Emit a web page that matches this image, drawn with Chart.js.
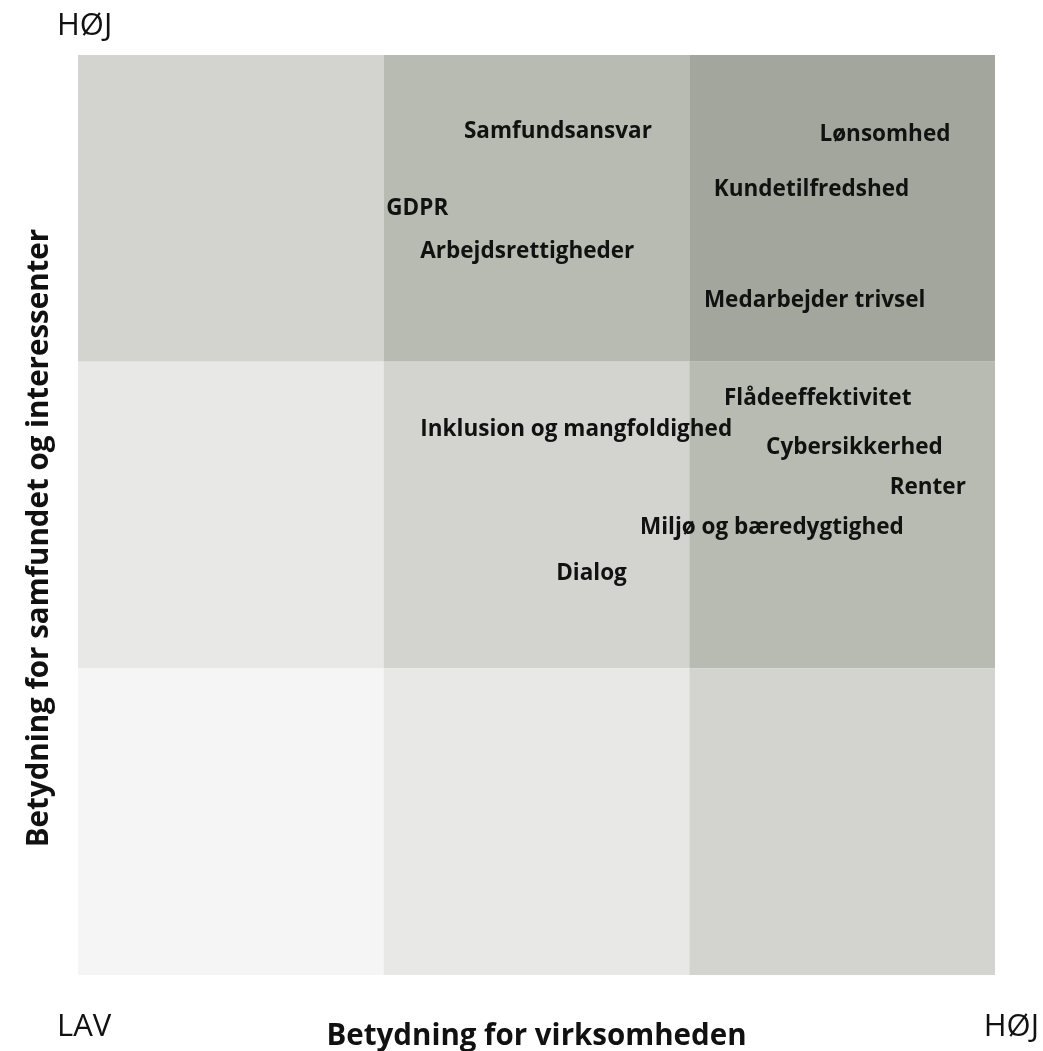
<!DOCTYPE html>
<html>
<head>
<meta charset="utf-8">
<script src="https://cdn.jsdelivr.net/npm/chart.js@4.4.1/dist/chart.umd.min.js"></script>
<style>
  html, body { margin: 0; padding: 0; background: #fff; }
  #wrap { width: 1043px; height: 1051px; }
</style>
</head>
<body>
<div id="wrap"><canvas id="matrix"></canvas></div>
<script>
// Topics in the materiality matrix
const topics = [
  'Samfundsansvar', 'Lønsomhed', 'Kundetilfredshed', 'GDPR',
  'Arbejdsrettigheder', 'Medarbejder trivsel', 'Flådeeffektivitet',
  'Inklusion og mangfoldighed', 'Cybersikkerhed', 'Renter',
  'Miljø og bæredygtighed', 'Dialog'
];
// Betydning for virksomheden (0-3)
const businessImpact = [1.57, 2.64, 2.40, 1.11, 1.47, 2.41, 2.42, 1.63, 2.54, 2.78, 2.27, 1.68];
// Betydning for samfundet og interessenter (0-3)
const stakeholderImpact = [2.75, 2.74, 2.56, 2.50, 2.36, 2.20, 1.88, 1.78, 1.72, 1.59, 1.46, 1.31];

// Zone shading, rows from top (høj) to bottom (lav), columns left to right
const zoneColors = [
  ['#d3d4cf', '#b8bbb1', '#a3a69c'],
  ['#e8e8e6', '#d3d4cf', '#b8bbb1'],
  ['#f5f5f5', '#e8e8e6', '#d3d4cf']
];
const levelLabels = { top: 'HØJ', low: 'LAV', high: 'HØJ' };
const yTitle = 'Betydning for samfundet og interessenter';

const FONT = '"Open Sans", "Noto Sans", sans-serif';

const zonesPlugin = {
  id: 'zones',
  beforeDatasetsDraw(chart) {
    const { ctx, scales: { x, y } } = chart;
    ctx.save();
    for (let r = 0; r < 3; r++) {
      for (let c = 0; c < 3; c++) {
        const x0 = x.getPixelForValue(c), x1 = x.getPixelForValue(c + 1);
        const y0 = y.getPixelForValue(3 - r), y1 = y.getPixelForValue(2 - r);
        ctx.fillStyle = zoneColors[r][c];
        ctx.fillRect(x0, y0, x1 - x0, y1 - y0);
      }
    }
    ctx.restore();
  }
};

const textPlugin = {
  id: 'topicText',
  afterDatasetsDraw(chart) {
    const { ctx } = chart;
    const meta = chart.getDatasetMeta(0);
    ctx.save();
    ctx.fillStyle = '#111';
    ctx.font = 'bold 22.5px ' + FONT;
    ctx.textAlign = 'center';
    ctx.textBaseline = 'middle';
    meta.data.forEach((pt, i) => {
      ctx.fillText(topics[i], pt.x, pt.y);
    });
    // level labels at the corners
    ctx.font = '31px ' + FONT;
    ctx.textBaseline = 'alphabetic';
    ctx.textAlign = 'left';
    ctx.fillText(levelLabels.top, 57, 35);
    ctx.fillText(levelLabels.low, 57, 1036);
    ctx.textAlign = 'right';
    ctx.fillText(levelLabels.high, 1039, 1036);
    // vertical axis title
    ctx.font = 'bold 29.5px ' + FONT;
    ctx.textAlign = 'center';
    ctx.translate(48, 538);
    ctx.rotate(-Math.PI / 2);
    ctx.fillText(yTitle, 0, 0);
    ctx.restore();
  }
};

new Chart(document.getElementById('matrix'), {
  type: 'scatter',
  data: {
    datasets: [{
      data: topics.map((t, i) => ({ x: businessImpact[i], y: stakeholderImpact[i] })),
      pointRadius: 0,
      pointHoverRadius: 0
    }]
  },
  options: {
    responsive: true,
    maintainAspectRatio: false,
    animation: false,
    events: [],
    layout: { padding: { top: 55, right: 48, bottom: 0, left: 0 } },
    plugins: { legend: { display: false }, tooltip: { enabled: false } },
    scales: {
      x: {
        min: 0, max: 3,
        grid: { display: false },
        border: { display: false },
        ticks: { display: false },
        title: {
          display: true,
          text: 'Betydning for virksomheden',
          color: '#111',
          font: { family: FONT, size: 29.5, weight: 'bold' },
          padding: { top: 0, bottom: -3 }
        },
        afterFit(scale) { scale.height = 76; }
      },
      y: {
        min: 0, max: 3,
        grid: { display: false },
        border: { display: false },
        ticks: { display: false },
        afterFit(scale) { scale.width = 78; }
      }
    }
  },
  plugins: [zonesPlugin, textPlugin]
});
</script>
</body>
</html>
